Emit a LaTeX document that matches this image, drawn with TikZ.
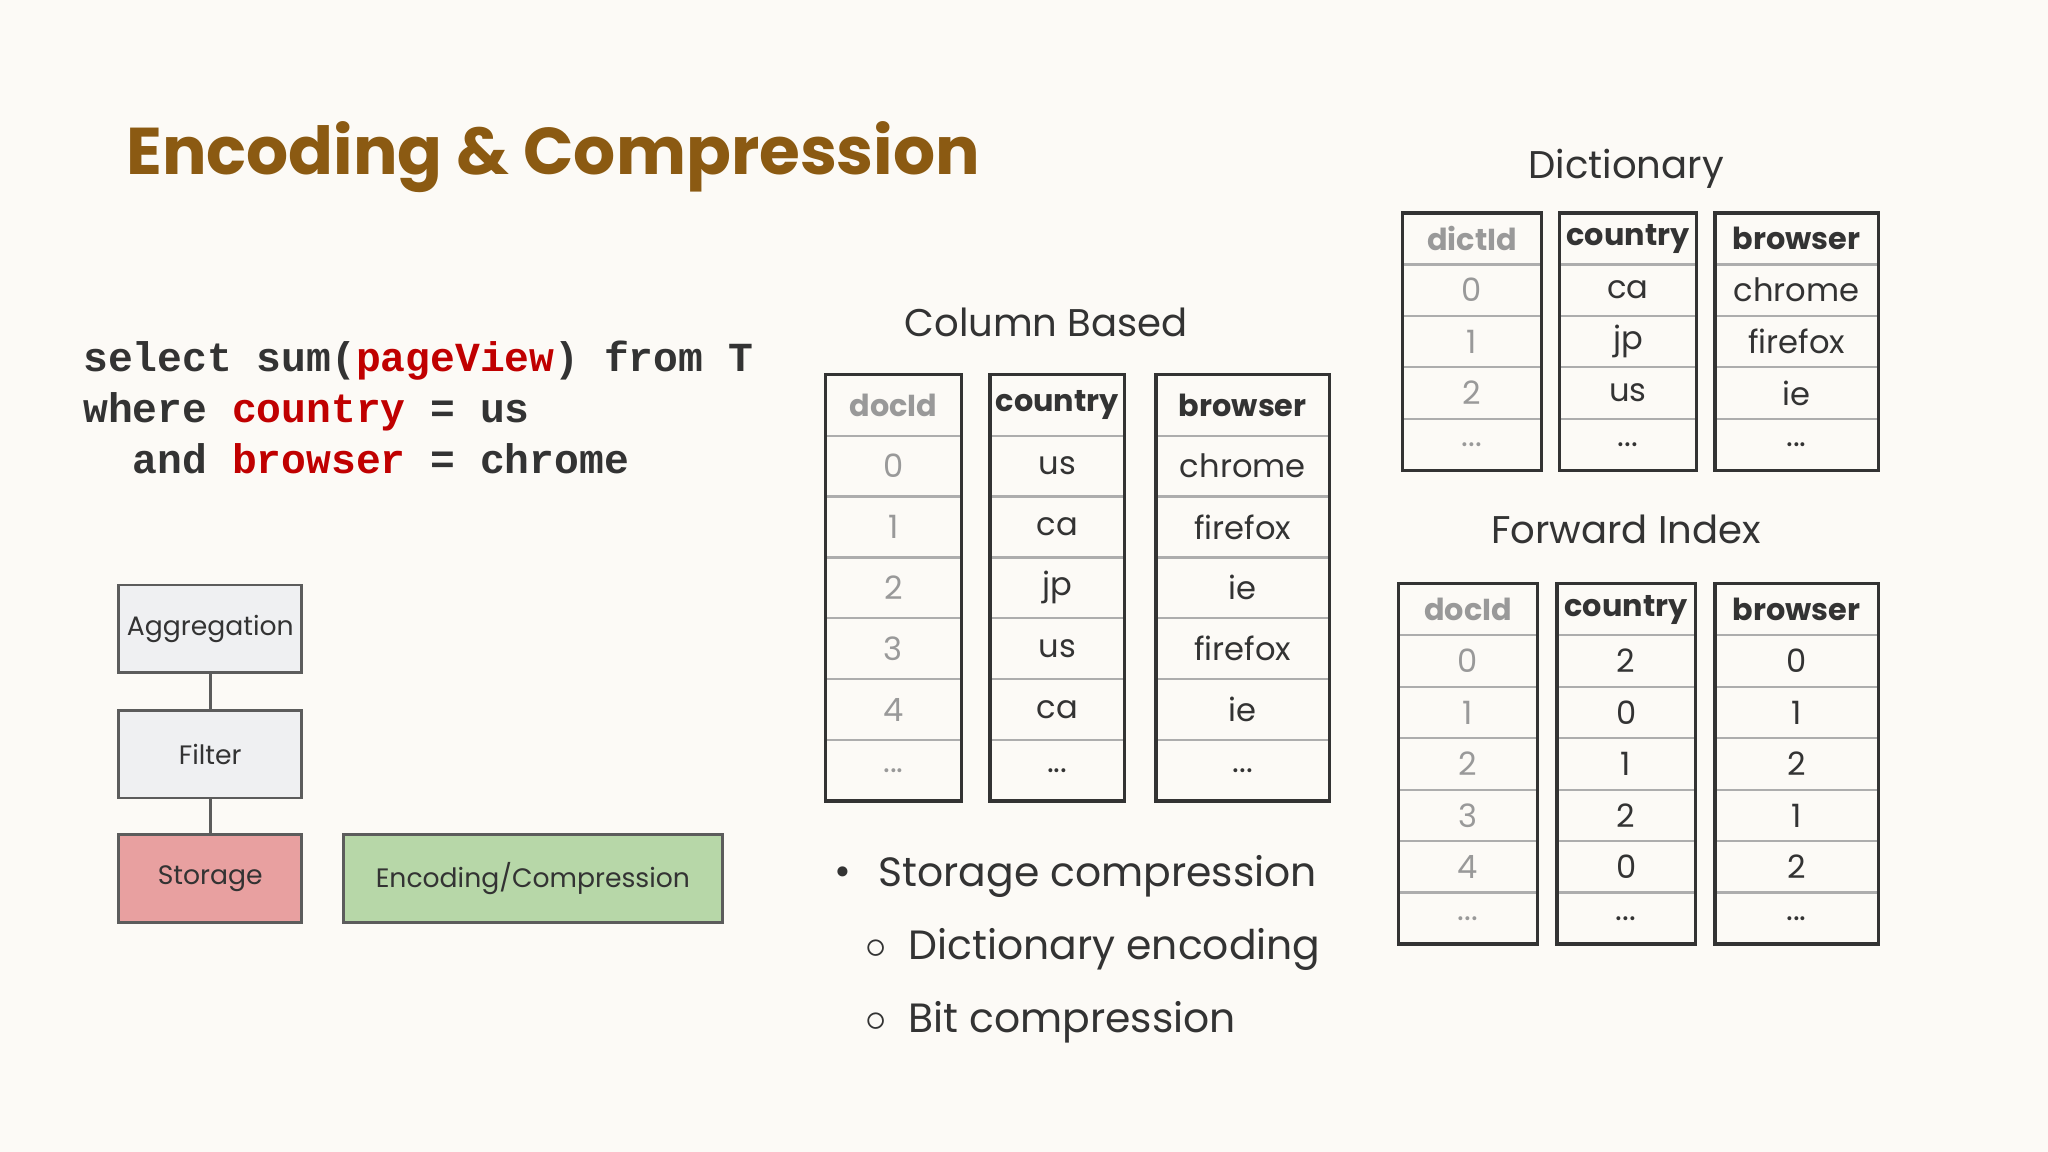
\documentclass[tikz,border=0pt]{standalone}
\usepackage{fontspec}
\setmainfont{Poppins}
\newfontfamily\codefont{Liberation Mono}
\definecolor{bg}{HTML}{FCFAF6}
\definecolor{titlec}{HTML}{8B5A12}
\definecolor{kw}{HTML}{C00000}
\definecolor{tx}{HTML}{333333}
\definecolor{gr}{HTML}{999999}
\definecolor{boxg}{HTML}{EFF0F2}
\definecolor{boxr}{HTML}{E8A0A0}
\definecolor{boxgr}{HTML}{B7D7A8}
\newcommand\myddd{...}
\newcommand\mktable[7]{% #1 name #2 x0 #3 x1 #4 y0 #5 rowh #6 color #7 list
  \foreach \t [count=\i from 0] in {#7}{%
    \pgfmathsetmacro\ya{-(#4+\i*#5)}\pgfmathsetmacro\yb{-(#4+(\i+1)*#5)}%
    \ifnum\i=0
      \node[cellc, text=#6, font=\fontsize{6.6pt}{8pt}\selectfont\bfseries] (#1-\i) at ({(#2+#3)/2},{(\ya+\yb)/2}) {\t};
    \else
      \node[cellc, text=#6] (#1-\i) at ({(#2+#3)/2},{(\ya+\yb)/2}) {\t};
      \draw[gline] (#2,\ya) -- (#3,\ya);
    \fi
    \xdef\lasty{\yb}%
  }
  \draw[tline] (#2,-#4) rectangle (#3,\lasty);
}
\tikzset{
  cellc/.style={inner sep=0pt, font=\fontsize{7pt}{8pt}\selectfont},
  gline/.style={draw=gr!80, line width=0.5pt},
  tline/.style={draw=tx, line width=0.7pt},
  flow/.style={draw=tx!80, line width=0.6pt, minimum width=1.4cm, minimum height=0.67cm, inner sep=0pt, font=\fontsize{5.8pt}{7pt}\selectfont, text=tx},
  bul/.style={anchor=west, text=tx, font=\fontsize{8.9pt}{11pt}\selectfont, inner sep=0pt},
}
\begin{document}
\begin{tikzpicture}[x=0.01cm,y=0.01cm]
\fill[bg] (0,0) rectangle (1568,-882);
\useasboundingbox (0,0) rectangle (1568,-882);
\node[anchor=west, text=titlec, font=\fontsize{14.4pt}{17pt}\selectfont\bfseries, inner sep=0] (title) at (96,-120) {Encoding \& Compression};
\node[anchor=north west, inner sep=0, align=left, text=tx, font=\codefont\bfseries\fontsize{9pt}{11.2pt}\selectfont] (code) at (63,-260) {select sum(\textcolor{kw}{pageView}) from T\\where \textcolor{kw}{country} = us\\\ \ and \textcolor{kw}{browser} = chrome};
% flow
\node[flow, fill=boxg] (agg) at (161,-481.5) {Aggregation};
\node[flow, fill=boxg] (fil) at (161,-577.5) {Filter};
\node[flow, fill=boxr] (sto) at (161,-672.5) {Storage};
\node[flow, fill=boxgr, minimum width=2.9cm] (enc) at (408,-672.5) {Encoding/Compression};
\draw[tx!80, line width=0.6pt] (agg) -- (fil);
\draw[tx!80, line width=0.6pt] (fil) -- (sto);
% column based
\node[text=tx, font=\fontsize{8.4pt}{10pt}\selectfont] (cbt) at (801,-247) {Column Based};
\mktable{ca}{632}{736}{287}{46.6}{gr}{docId,0,1,2,3,4,\myddd}
\mktable{cb}{758}{861}{287}{46.6}{tx}{country,us,ca,jp,us,ca,\myddd}
\mktable{cc}{885}{1018}{287}{46.6}{tx}{browser,chrome,firefox,ie,firefox,ie,\myddd}
% dictionary
\node[text=tx, font=\fontsize{8.4pt}{10pt}\selectfont] (dt) at (1245,-129) {Dictionary};
\mktable{da}{1074}{1180}{163}{39.4}{gr}{dictId,0,1,2,\myddd}
\mktable{db}{1194}{1299}{163}{39.4}{tx}{country,ca,jp,us,\myddd}
\mktable{dc}{1313}{1438}{163}{39.4}{tx}{browser,chrome,firefox,ie,\myddd}
% forward index
\node[text=tx, font=\fontsize{8.4pt}{10pt}\selectfont] (ft) at (1245,-405) {Forward Index};
\mktable{fa}{1071}{1177}{447}{39.4}{gr}{docId,0,1,2,3,4,\myddd}
\mktable{fb}{1192}{1298}{447}{39.4}{tx}{country,2,0,1,2,0,\myddd}
\mktable{fc}{1313}{1438}{447}{39.4}{tx}{browser,0,1,2,1,2,\myddd}
% bullets
\node[bul] (b1d) at (638,-671) {\textbullet};
\node[bul] (b1) at (672,-671) {Storage compression};
\node[bul] (b2d) at (662,-727) {$\circ$};
\node[bul] (b2) at (695,-727) {Dictionary encoding};
\node[bul] (b3d) at (662,-783) {$\circ$};
\node[bul] (b3) at (695,-783) {Bit compression};
\end{tikzpicture}
\end{document}
